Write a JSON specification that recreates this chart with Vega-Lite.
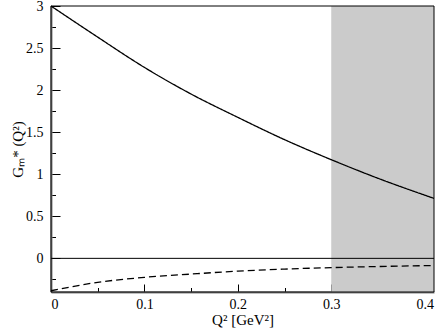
{
  "$schema": "https://vega.github.io/schema/vega-lite/v6.json",
  "width": 383,
  "height": 286,
  "autosize": {"type": "none"},
  "padding": {"left": 51, "top": 6, "right": 2, "bottom": 40},
  "background": "white",
  "config": {
    "view": {"stroke": null},
    "axis": {"grid": false, "labelFont": "Liberation Serif", "titleFont": "Liberation Serif", "labelFontSize": 14, "titleFontSize": 15, "titleFontWeight": "normal", "labelColor": "black", "titleColor": "black", "tickColor": "black", "tickWidth": 1}
  },
  "datasets": {
    "band": [{"q2a": 0.3, "q2b": 0.41, "lo": -0.4, "hi": 3}],
    "frame": [{"q2a": 0, "q2b": 0.41, "lo": -0.4, "hi": 3}],
    "curves": [
      {"q2": 0.0, "g": 3.0, "curve": "solid"},
      {"q2": 0.05, "g": 2.63, "curve": "solid"},
      {"q2": 0.1, "g": 2.27, "curve": "solid"},
      {"q2": 0.15, "g": 1.953, "curve": "solid"},
      {"q2": 0.2, "g": 1.676, "curve": "solid"},
      {"q2": 0.25, "g": 1.411, "curve": "solid"},
      {"q2": 0.3, "g": 1.173, "curve": "solid"},
      {"q2": 0.35, "g": 0.952, "curve": "solid"},
      {"q2": 0.41, "g": 0.713, "curve": "solid"},
      {"q2": 0.0, "g": -0.385, "curve": "dashed"},
      {"q2": 0.05, "g": -0.285, "curve": "dashed"},
      {"q2": 0.1, "g": -0.226, "curve": "dashed"},
      {"q2": 0.15, "g": -0.187, "curve": "dashed"},
      {"q2": 0.2, "g": -0.152, "curve": "dashed"},
      {"q2": 0.25, "g": -0.128, "curve": "dashed"},
      {"q2": 0.3, "g": -0.11, "curve": "dashed"},
      {"q2": 0.35, "g": -0.097, "curve": "dashed"},
      {"q2": 0.41, "g": -0.085, "curve": "dashed"}
    ],
    "zero": [{"y": 0}]
  },
  "resolve": {"axis": {"x": "independent", "y": "independent"}},
  "layer": [
    {
      "data": {"name": "band"},
      "mark": {"type": "rect", "fill": "#cbcbcb", "stroke": null},
      "encoding": {
        "x": {"field": "q2a", "type": "quantitative", "scale": {"domain": [0, 0.41], "nice": false, "zero": false},
          "axis": {"orient": "bottom", "grid": false, "values": [0, 0.05, 0.1, 0.15, 0.2, 0.25, 0.3, 0.35, 0.4],
            "labelExpr": "abs(datum.value*10 - round(datum.value*10)) < 0.001 ? format(datum.value, '~g') : ''",
            "tickSize": {"condition": {"test": "abs(datum.value*10 - round(datum.value*10)) < 0.001", "value": -8}, "value": -4.5},
            "ticks": true, "labelPadding": 13, "domainColor": "#808080", "domainWidth": 2,
            "labelFont": "Liberation Serif", "labelFontSize": 14, "titleFont": "Liberation Serif", "titleFontSize": 15, "titleFontWeight": "normal",
            "title": "Q² [GeV²]", "titlePadding": 1}},
        "x2": {"field": "q2b"},
        "y": {"field": "lo", "type": "quantitative", "scale": {"domain": [-0.4, 3], "nice": false, "zero": false},
          "axis": {"orient": "left", "grid": false, "values": [-0.25, 0, 0.25, 0.5, 0.75, 1, 1.25, 1.5, 1.75, 2, 2.25, 2.5, 2.75, 3],
            "labelExpr": "abs(datum.value*2 - round(datum.value*2)) < 0.001 ? format(datum.value, '~g') : ''",
            "tickSize": {"condition": {"test": "abs(datum.value*2 - round(datum.value*2)) < 0.001", "value": -9}, "value": -4.5},
            "ticks": true, "labelPadding": 17, "domainColor": "#808080", "domainWidth": 2,
            "labelFont": "Liberation Serif", "labelFontSize": 14, "titleFont": "Liberation Serif", "titleFontSize": 15, "titleFontWeight": "normal",
            "title": "Gₘ* (Q²)", "titlePadding": 0}},
        "y2": {"field": "hi"}
      }
    },
    {
      "data": {"name": "frame"},
      "mark": {"type": "rect", "fill": null, "fillOpacity": 0, "stroke": "black", "strokeWidth": 1},
      "encoding": {
        "x": {"field": "q2a", "type": "quantitative", "axis": null},
        "x2": {"field": "q2b"},
        "y": {"field": "lo", "type": "quantitative", "axis": null},
        "y2": {"field": "hi"}
      }
    },
    {
      "data": {"name": "zero"},
      "mark": {"type": "rule", "color": "black", "strokeWidth": 1},
      "encoding": {
        "y": {"field": "y", "type": "quantitative", "axis": null}
      }
    },
    {
      "data": {"name": "curves"},
      "mark": {"type": "line", "color": "black", "strokeWidth": 1.3, "interpolate": "monotone"},
      "encoding": {
        "x": {"field": "q2", "type": "quantitative", "axis": null},
        "y": {"field": "g", "type": "quantitative", "axis": null},
        "detail": {"field": "curve"},
        "strokeDash": {"field": "curve", "type": "nominal", "scale": {"domain": ["solid", "dashed"], "range": [[1, 0], [7, 4]]}, "legend": null}
      }
    }
  ]
}
